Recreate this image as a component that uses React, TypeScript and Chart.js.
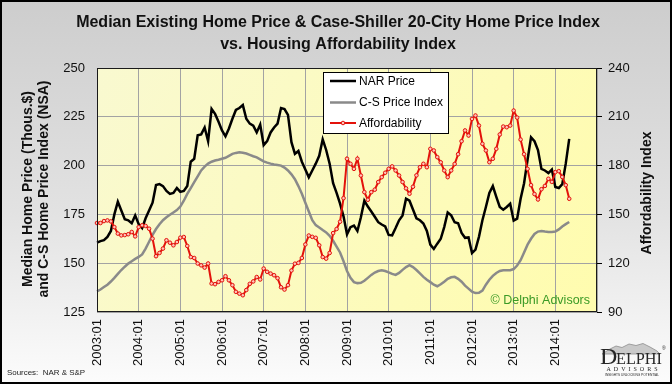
import React, { useEffect, useRef } from "react";
import { Chart, registerables } from "chart.js";

Chart.register(...registerables);

const TITLE_LINES = [
  "Median Existing Home Price & Case-Shiller 20-City Home Price Index",
  "vs. Housing Affordability Index",
];
const LEFT_AXIS_TITLE = ["Median Home Price (Thous.$)", "and C-S Home Price Index (NSA)"];
const RIGHT_AXIS_TITLE = "Affordability Index";
const SERIES_NAMES = ["NAR Price", "C-S Price Index", "Affordability"];
const SOURCE_NOTE = "Sources:  NAR & S&P";
const COPYRIGHT = "\u00A9 Delphi Advisors";

const FIRST_YEAR = 2003;
const CATEGORY_COUNT = 145;
const CATEGORIES = Array.from(
  { length: CATEGORY_COUNT },
  (_, i) => `${FIRST_YEAR + Math.floor(i / 12)}:${String((i % 12) + 1).padStart(2, "0")}`
);
const TICK_LABELS = [
  "2003:01", "2004:01", "2005:01", "2006:01", "2007:01", "2008:01",
  "2009:01", "2010:01", "2011:01", "2012:01", "2013:01", "2014:01",
];
const LEFT_TICKS = [125, 150, 175, 200, 225, 250];
const RIGHT_TICKS = [90, 120, 150, 180, 210, 240];

// NAR median existing home price (thous. $), monthly 2003:01 - 2014:05
const NAR_PRICE = [
  160.5, 161.3, 161.8, 163.5, 166.5, 175, 181.5, 177, 172.5, 172, 170.5, 174.5,
  170, 168, 173, 177, 181, 190, 190.5, 189.5, 187, 185.5, 186, 188.5,
  186.5, 187, 189.5, 202, 203.5, 215.5, 216, 219.5, 212.5, 229, 226.5, 222.5,
  218, 215, 219, 224, 228.5, 229.5, 231, 224, 221.5, 220.5, 217, 221,
  210.5, 212.5, 217, 219.5, 221.5, 229.5, 229, 226, 212, 206, 207.5, 202,
  198, 194, 197.5, 201, 205, 213.5, 208, 201, 191, 186, 180.5, 174,
  164.8, 168.5, 169.3, 166.5, 173.5, 182, 179, 176.5, 173.8, 171, 169.8, 168.8,
  164.5, 164.3, 168, 172, 174.5, 183, 182, 177.5, 173, 172, 170.3, 166.5,
  159.5, 157.3, 160, 162.5, 168.5, 176, 174.5, 171, 170.5, 165.5, 163, 163.2,
  155.2, 157, 163.5, 172, 178.8, 186, 189.5, 184, 178.8, 177.4, 178.8, 180.5,
  171.8, 172.8, 183, 191, 203, 214.5, 212.5, 208, 198.3, 197.5, 196.2, 198,
  189, 188.5, 190.5, 201, 213.7,
];

// Case-Shiller 20-City index (NSA)
const CS_INDEX = [
  135.6, 136.5, 137.8, 139, 140.6, 142.5, 144.5, 146.5, 148.2, 149.8, 151, 152.2,
  153.2, 154.5, 157.5, 161, 164.5, 167.5, 170, 172, 173.5, 174.8, 176, 177.2,
  179, 182, 185.5, 188.5, 191.5, 194.5, 197.5, 199.5, 201, 202, 202.6, 203,
  203.5, 204, 205, 206, 206.5, 206.8, 206.6, 206.2, 205.5, 204.8, 204.2, 203.2,
  202.2, 201.5, 201, 200.6, 200.3, 200, 199, 197.5, 195.5, 193, 189.5, 185.6,
  181, 176.5, 172, 169.5, 168.3, 167, 165.8, 164, 161.5, 158.5, 155.5, 151,
  146, 142.5, 140.3, 139.8, 140, 141, 142.5, 144, 145.2, 146, 146.4, 146,
  145.3, 144.5, 144, 145, 146.6, 148, 149, 148, 146.5, 144.8, 143, 141.5,
  140.3, 139, 138.2, 139.2, 140.5, 142, 142.8, 143, 142, 140.5, 138.5, 137,
  135.4, 134.7, 134.8, 136, 139, 141.5, 143.5, 145, 146, 146.4, 146.4, 146.4,
  147, 148.8, 151.5, 155.5, 159.5, 162.5, 165, 166.2, 166.5, 166.2, 166, 166,
  166.2, 167.3, 168.8, 170, 171.1,
];

// Housing Affordability Index (right axis)
const AFFORDABILITY = [
  144.7, 144.7, 145.9, 146.3, 145.7, 142.2, 138.2, 137.1, 137.3, 137.8, 139.2, 136.5,
  142.2, 143.3, 142.9, 141.2, 135.1, 124.3, 126.3, 129, 134.1, 132.6, 131, 133,
  135.7, 136.1, 130.6, 123.8, 123.2, 119.8, 118.7, 117.3, 119.8, 107.5, 107.1, 108.5,
  109.5, 112, 109.5, 106.5, 102.4, 101.3, 100.3, 103.5, 107.3, 108.8, 111.5, 110,
  116.7, 114.7, 113.6, 112.6, 110.8, 105.2, 103.8, 106.5, 115.5, 119.7, 120.2, 123.2,
  131.5, 137, 136.2, 135.6, 131, 123.8, 122.8, 126.3, 138.5, 141, 145.5, 160,
  184.2, 181.1, 178, 184.2, 173.9, 163.7, 159, 163.7, 165.2, 169.9, 172.9, 175.6,
  178, 179.5, 177, 173.9, 169.9, 166, 162.7, 167, 174, 179, 181.1, 179,
  190.3, 189.3, 185.2, 182, 177, 172.9, 177, 181, 187, 195, 201.6, 198.5,
  208.7, 210.8, 204.6, 193.4, 189.3, 182.1, 184.2, 190.3, 199.1, 204, 203.6, 204.6,
  213.8, 209.5, 196, 187, 178, 168, 162.5, 159.2, 165.5, 167.5, 171.9, 170,
  176, 176.6, 173, 168, 159.6,
];

const SANS = "'Liberation Sans', Arial, sans-serif";
const SERIF = "'Liberation Serif', 'DejaVu Serif', serif";
const COLORS = { nar: "#000000", cs: "#8a8a8a", aff: "#e3120b", affFill: "#ffc4b8", grid: "#a3a3a3" };

const decorPlugin = {
  id: "decor",
  beforeDraw(chart: any) {
    const { ctx, width, height, chartArea: a } = chart;
    ctx.save();
    const g = ctx.createLinearGradient(0, 0, 0, height);
    g.addColorStop(0, "#cdcdcd");
    g.addColorStop(0.55, "#e2e2e2");
    g.addColorStop(1, "#fcfcfc");
    ctx.fillStyle = g;
    ctx.fillRect(0, 0, width, height);
    const pg = ctx.createLinearGradient(a.left, a.top, a.right, a.bottom);
    pg.addColorStop(0, "#f9f9d0");
    pg.addColorStop(1, "#fffcae");
    ctx.fillStyle = pg;
    ctx.fillRect(a.left, a.top, a.right - a.left, a.bottom - a.top);
    ctx.restore();
  },
  afterDatasetsDraw(chart: any) {
    const { ctx, chartArea: a } = chart;
    ctx.save();
    // plot frame
    ctx.strokeStyle = "#1a1a1a";
    ctx.lineWidth = 1;
    ctx.strokeRect(Math.round(a.left) + 0.5, Math.round(a.top) + 0.5, Math.round(a.right - a.left) - 1, Math.round(a.bottom - a.top) - 1);

    // legend box
    const lx = 323, ly = 72, lw = 126, lh = 62;
    ctx.fillStyle = "#ffffff";
    ctx.fillRect(lx, ly, lw, lh);
    ctx.strokeStyle = "#000";
    ctx.strokeRect(lx + 0.5, ly + 0.5, lw - 1, lh - 1);
    const rows = [81, 102.5, 123];
    const cols = [COLORS.nar, COLORS.cs, COLORS.aff];
    ctx.font = `12px ${SANS}`;
    ctx.textBaseline = "middle";
    ctx.textAlign = "left";
    rows.forEach((y, i) => {
      ctx.strokeStyle = cols[i];
      ctx.lineWidth = i === 2 ? 2 : 2.5;
      ctx.beginPath();
      ctx.moveTo(330, y);
      ctx.lineTo(356, y);
      ctx.stroke();
      if (i === 2) {
        ctx.fillStyle = COLORS.affFill;
        ctx.lineWidth = 1;
        ctx.beginPath();
        ctx.arc(343, y, 1.8, 0, Math.PI * 2);
        ctx.fill();
        ctx.stroke();
      }
      ctx.fillStyle = "#000";
      ctx.fillText(SERIES_NAMES[i], 359, y + 0.5);
    });

    // copyright
    ctx.font = `12.5px ${SANS}`;
    ctx.fillStyle = "#3a9a26";
    ctx.textAlign = "right";
    ctx.fillText(COPYRIGHT, a.right - 7, a.bottom - 11);
    ctx.restore();
  },
  afterDraw(chart: any) {
    const { ctx, width, height } = chart;
    ctx.save();
    ctx.fillStyle = "#111";
    ctx.textAlign = "center";
    ctx.textBaseline = "middle";
    ctx.font = `bold 16px ${SANS}`;
    ctx.fillText(TITLE_LINES[0], 338, 23);
    ctx.fillText(TITLE_LINES[1], 338, 45);

    // left axis title
    ctx.font = `bold 14px ${SANS}`;
    ctx.save();
    ctx.translate(28, 189);
    ctx.rotate(-Math.PI / 2);
    ctx.fillText(LEFT_AXIS_TITLE[0], 0, 0);
    ctx.fillText(LEFT_AXIS_TITLE[1], 0, 16.5);
    ctx.restore();
    // right axis title
    ctx.save();
    ctx.translate(647, 193);
    ctx.rotate(-Math.PI / 2);
    ctx.fillText(RIGHT_AXIS_TITLE, 0, 0);
    ctx.restore();

    // sources
    ctx.font = `8px ${SANS}`;
    ctx.textAlign = "left";
    ctx.fillStyle = "#222";
    ctx.fillText(SOURCE_NOTE, 7, 373, 78);

    // logo
    ctx.fillStyle = "#c9c9c9";
    ctx.strokeStyle = "#8d8d8d";
    ctx.lineWidth = 0.8;
    ctx.beginPath();
    ctx.moveTo(602, 354);
    ctx.lineTo(610, 349);
    ctx.lineTo(616, 346);
    ctx.lineTo(622, 347.5);
    ctx.lineTo(629, 344);
    ctx.lineTo(636, 345.5);
    ctx.lineTo(643, 343.5);
    ctx.lineTo(650, 347);
    ctx.lineTo(657, 351);
    ctx.lineTo(660, 354);
    ctx.closePath();
    ctx.fill();
    ctx.stroke();
    ctx.fillStyle = "#262626";
    ctx.textBaseline = "alphabetic";
    ctx.font = `24px ${SERIF}`;
    ctx.fillText("D", 600, 364);
    ctx.font = `17px ${SERIF}`;
    ctx.fillText("ELPHI", 616, 364, 46);
    ctx.font = `5px ${SANS}`;
    ctx.fillText("\u00AE", 662, 350);
    ctx.textAlign = "center";
    ctx.font = `6px ${SERIF}`;
    ctx.fillText("A  D  V  I  S  O  R  S", 632, 371, 54);
    ctx.font = `3.5px ${SANS}`;
    ctx.fillText("INSIGHTS UNLOCKING POTENTIAL", 632, 375.5, 54);

    // outer border
    ctx.strokeStyle = "#000";
    ctx.lineWidth = 2;
    ctx.strokeRect(1, 1, width - 2, height - 2);
    ctx.restore();
  },
};

export default function App() {
  const ref = useRef<HTMLCanvasElement | null>(null);
  useEffect(() => {
    const canvas = ref.current;
    if (!canvas) return;
    const chart = new Chart(canvas, {
      type: "line",
      data: {
        labels: CATEGORIES,
        datasets: [
          {
            label: SERIES_NAMES[0],
            data: NAR_PRICE,
            borderColor: COLORS.nar,
            borderWidth: 2.5,
            pointRadius: 0,
            tension: 0,
            yAxisID: "y",
            order: 1,
          },
          {
            label: SERIES_NAMES[1],
            data: CS_INDEX,
            borderColor: COLORS.cs,
            borderWidth: 2.5,
            pointRadius: 0,
            tension: 0,
            yAxisID: "y",
            order: 2,
          },
          {
            label: SERIES_NAMES[2],
            data: AFFORDABILITY,
            borderColor: COLORS.aff,
            borderWidth: 2,
            pointRadius: 1.8,
            pointBorderWidth: 1,
            pointBackgroundColor: COLORS.affFill,
            pointBorderColor: COLORS.aff,
            tension: 0,
            yAxisID: "y1",
            order: 0,
          },
        ],
      },
      options: {
        animation: false,
        responsive: false,
        devicePixelRatio: 1,
        layout: { padding: { top: 68, left: 0, right: 0, bottom: 0 } },
        plugins: { legend: { display: false }, tooltip: { enabled: false }, title: { display: false } },
        events: [],
        scales: {
          x: {
            type: "category",
            offset: false,
            grid: {
              color: (c: any) => (c.index % 12 === 0 ? COLORS.grid : "rgba(0,0,0,0)"),
              drawTicks: false,
              lineWidth: 1,
            },
            border: { display: false },
            ticks: {
              autoSkip: false,
              maxRotation: 90,
              minRotation: 90,
              padding: 7,
              color: "#111",
              font: { family: SANS, size: 13 },
              callback: (_v: any, i: number) => (TICK_LABELS.includes(CATEGORIES[i]) ? CATEGORIES[i] : ""),
            },
            afterFit: (s: any) => {
              s.height = 72;
              s.paddingLeft = 0;
              s.paddingRight = 0;
            },
          },
          y: {
            position: "left",
            min: LEFT_TICKS[0],
            max: LEFT_TICKS[LEFT_TICKS.length - 1],
            ticks: {
              stepSize: LEFT_TICKS[1] - LEFT_TICKS[0],
              padding: 12,
              color: "#111",
              font: { family: SANS, size: 13 },
            },
            grid: { color: COLORS.grid, drawTicks: false, lineWidth: 1 },
            border: { display: false },
            afterFit: (s: any) => {
              s.width = 97;
              s.paddingTop = 0;
              s.paddingBottom = 0;
            },
          },
          y1: {
            position: "right",
            min: RIGHT_TICKS[0],
            max: RIGHT_TICKS[RIGHT_TICKS.length - 1],
            ticks: {
              stepSize: RIGHT_TICKS[1] - RIGHT_TICKS[0],
              padding: 6,
              color: "#111",
              font: { family: SANS, size: 13 },
            },
            grid: { drawOnChartArea: false, drawTicks: true, tickLength: 5, color: "#000", lineWidth: 1 },
            border: { display: false },
            afterFit: (s: any) => {
              s.width = 75;
              s.paddingTop = 0;
              s.paddingBottom = 0;
            },
          },
        },
      },
      plugins: [decorPlugin],
    } as any);
    return () => chart.destroy();
  }, []);
  return (
    <div style={{ position: "fixed", left: 0, top: 0, width: 672, height: 384 }}>
      <canvas ref={ref} width={672} height={384} style={{ width: 672, height: 384, display: "block" }} />
    </div>
  );
}
